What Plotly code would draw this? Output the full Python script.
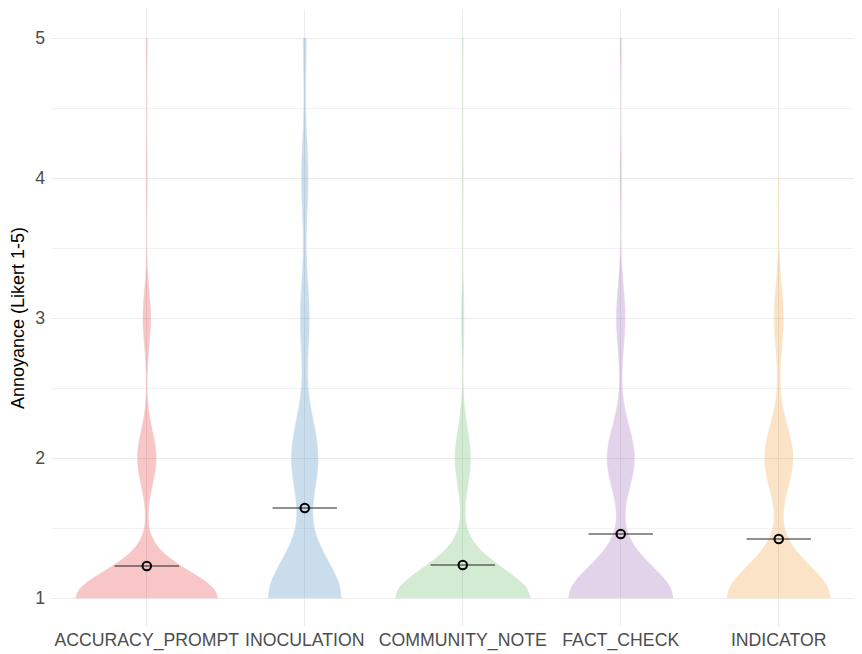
import numpy as np
import plotly.graph_objects as go

# ---- data ----
conditions = ["ACCURACY_PROMPT", "INOCULATION", "COMMUNITY_NOTE", "FACT_CHECK", "INDICATOR"]
likert_levels = [1, 2, 3, 4, 5]
# response counts per Likert level (1..5) for each condition
counts_accuracy = [167, 22, 9, 1, 1]
counts_inoculation = [124, 45, 15, 11, 5]
counts_community = [175, 20, 3, 1, 1]
counts_fact = [146, 38, 12, 2, 2]
counts_indicator = [146, 40, 13, 1, 0]
# mean annoyance per condition (points)
mean_values = [1.229, 1.643, 1.236, 1.457, 1.421]
# kernel bandwidths per condition (smoothing)
bandwidths = [0.19, 0.275, 0.21, 0.226, 0.228]

all_counts = [counts_accuracy, counts_inoculation, counts_community, counts_fact, counts_indicator]
base_rgb = [(228, 26, 28), (45, 120, 180), (77, 175, 74), (140, 80, 170), (235, 145, 30)]
alpha = 0.25


def expand(cnts):
    s = []
    for lvl, c in zip(likert_levels, cnts):
        s += [lvl] * c
    return np.array(s, dtype=float)


def max_kde(samples, bw):
    grid = np.linspace(samples.min(), samples.max(), 801)
    z = (grid[:, None] - samples[None, :]) / bw
    dens = np.exp(-0.5 * z ** 2).sum(axis=1) / (len(samples) * bw * np.sqrt(2 * np.pi))
    return dens.max()


sample_sets = [expand(c) for c in all_counts]
peaks = [max_kde(s, bw) for s, bw in zip(sample_sets, bandwidths)]
top_peak = max(peaks)  # equal-area scaling: widths proportional to peak density

fig = go.Figure()
for cond, samples, bw, rgb, pk in zip(conditions, sample_sets, bandwidths, base_rgb, peaks):
    fill = "rgba(%d,%d,%d,%.2f)" % (rgb[0], rgb[1], rgb[2], alpha)
    solid = "rgb(%d,%d,%d)" % tuple(int(round(255 - alpha * (255 - v))) for v in rgb)
    fig.add_trace(go.Violin(
        x=[cond] * len(samples), y=samples, name=cond,
        fillcolor=fill, line=dict(color=solid, width=0.5),
        spanmode="hard", bandwidth=bw, points=False,
        box_visible=False, meanline_visible=False,
        scalegroup=cond, scalemode="width", width=0.9 * pk / top_peak,
        showlegend=False, hoverinfo="skip",
    ))

fig.add_trace(go.Scatter(
    x=conditions, y=mean_values, mode="markers",
    marker=dict(symbol="line-ew", size=46, color="#222222",
                line=dict(color="#222222", width=1.1)),
    showlegend=False, hoverinfo="skip",
))
fig.add_trace(go.Scatter(
    x=conditions, y=mean_values, mode="markers",
    marker=dict(symbol="circle-open", size=8.5, color="black",
                line=dict(color="black", width=2.1)),
    showlegend=False,
))

fig.update_layout(
    width=854, height=646,
    margin=dict(l=44, r=0, t=2, b=28),
    paper_bgcolor="white", plot_bgcolor="white",
    violinmode="overlay",
    font=dict(family="Liberation Sans, Arial, sans-serif", size=17.7, color="#4D4D4D"),
    xaxis=dict(
        type="category", categoryorder="array", categoryarray=conditions,
        range=[-0.6, 4.527], showgrid=True, gridcolor="#EBEBEB", gridwidth=1.1,
        zeroline=False, showline=False, ticks="", automargin=False,
        ticklabelstandoff=1,
        tickfont=dict(size=17.7, color="#4D4D4D"),
    ),
    yaxis=dict(
        range=[0.8, 5.2], tick0=1, dtick=1, showgrid=True,
        gridcolor="#EBEBEB", gridwidth=1.1, zeroline=False, showline=False,
        ticks="", automargin=False, ticklabelstandoff=6,
        tickfont=dict(size=17.7, color="#4D4D4D"),
        minor=dict(dtick=0.5, showgrid=True, gridcolor="#F2F2F2", gridwidth=0.6),
        title=dict(text="Annoyance (Likert 1-5)", standoff=6,
                   font=dict(size=18, color="black")),
    ),
)

fig.write_html("out.html")
